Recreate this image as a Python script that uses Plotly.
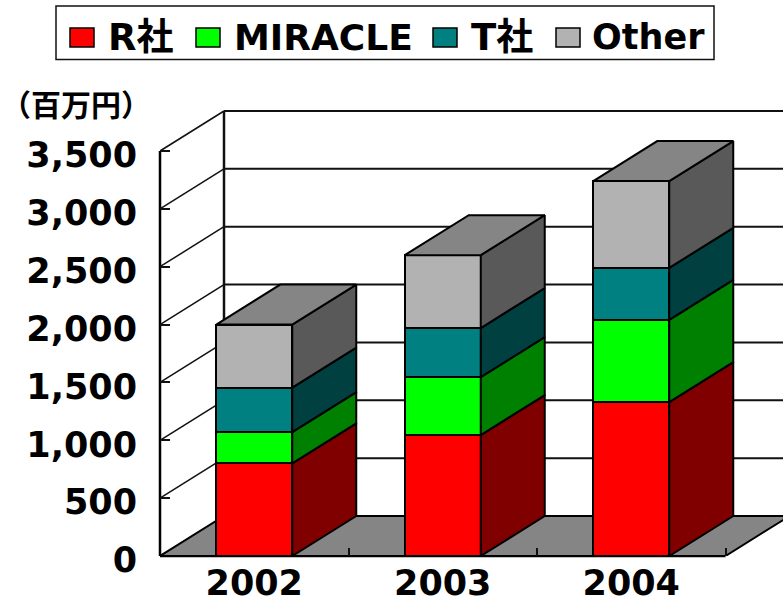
import plotly.graph_objects as go

# ---- data ----
years = [2002, 2003, 2004]
r_sha = [800, 1045, 1330]
miracle = [270, 500, 710]
t_sha = [385, 425, 450]
other = [545, 630, 750]
y_ticks = [0, 500, 1000, 1500, 2000, 2500, 3000, 3500]
unit_label = "（百万円）"

series = [
    ("R社", r_sha, "#FF0000", "#800000"),
    ("MIRACLE", miracle, "#00FF00", "#008000"),
    ("T社", t_sha, "#008080", "#004040"),
    ("Other", other, "#B2B2B2", "#595959"),
]

# ---- layout constants ----
W, H = 783, 602
LEFT, BASE = 160, 556
CAT_PX = 188.5
VAL_PX = 405 / 3500
DEPTH_X = 64 / CAT_PX
DEPTH_Y = 40 / VAL_PX
BAR_W = 76 / CAT_PX
X0 = years[0] - 0.5
X_END = X0 + (W - LEFT) / CAT_PX
Y_END = BASE * 1 / VAL_PX
XR = years[-1] + 0.5
FONT = "DejaVu Sans, Noto Sans CJK JP"
TOP_GREY = "#858585"
INK = "#111111"

fig = go.Figure()

# front faces
for name, vals, col, _ in series:
    fig.add_bar(x=years, y=vals, name=name, width=BAR_W,
                marker=dict(color=col, line=dict(color="black", width=2)),
                showlegend=False)

# side faces and top
for i, yr in enumerate(years):
    right = yr + BAR_W / 2
    left = yr - BAR_W / 2
    base = 0
    for name, vals, col, side in series:
        top = base + vals[i]
        fig.add_scatter(
            x=[right, right + DEPTH_X, right + DEPTH_X, right, right],
            y=[base, base + DEPTH_Y, top + DEPTH_Y, top, base],
            mode="lines", fill="toself", fillcolor=side,
            line=dict(color="black", width=2), showlegend=False, hoverinfo="skip")
        base = top
    fig.add_scatter(
        x=[left, right, right + DEPTH_X, left + DEPTH_X, left],
        y=[base, base, base + DEPTH_Y, base + DEPTH_Y, base],
        mode="lines", fill="toself", fillcolor=TOP_GREY,
        line=dict(color="black", width=2), showlegend=False, hoverinfo="skip")

shapes = []
def seg(x0, y0, x1, y1, w=1.5, color=INK):
    shapes.append(dict(type="line", xref="x", yref="y", x0=x0, y0=y0, x1=x1, y1=y1,
                       line=dict(color=color, width=w), layer="below"))

# floor
shapes.append(dict(type="path", xref="x", yref="y", layer="below",
                   path=f"M{X0},0 L{XR},0 L{XR + DEPTH_X},{DEPTH_Y} L{X0 + DEPTH_X},{DEPTH_Y} Z",
                   fillcolor=TOP_GREY, line=dict(color="black", width=2)))
# walls
for v in y_ticks[1:]:
    seg(X0, v, X0 + DEPTH_X, v + DEPTH_Y)
    seg(X0 + DEPTH_X, v + DEPTH_Y, X_END + 1, v + DEPTH_Y, 2)
seg(X0 + DEPTH_X, DEPTH_Y, X0 + DEPTH_X, y_ticks[-1] + DEPTH_Y, 2.5)
# axis lines: one end tied to paper so they are not clipped at the plot edge
shapes.append(dict(type="line", xref="paper", yref="y", x0=0, x1=0, y0=0, y1=y_ticks[-1],
                   line=dict(color="black", width=2.5), layer="below"))
shapes.append(dict(type="line", xref="x", yref="paper", x0=X0, x1=XR, y0=0, y1=0,
                   line=dict(color="black", width=2.5), layer="below"))


def px(x):
    return (x - LEFT) / (W - LEFT)


def py(y):
    return (BASE - y) / BASE


# hand-placed legend (swatches 25x19 as in the reference)
shapes.append(dict(type="rect", xref="paper", yref="paper",
                   x0=px(56), x1=px(714), y0=py(59.5), y1=py(6),
                   line=dict(color="#111111", width=1.5), fillcolor="white"))
annotations = []
legend_pos = [(70, 106), (196, 232), (433, 469), (556, 590)]
legend_size = [37, 36, 37, 35]
for (swx, tx), fs, (name, _, col, _) in zip(legend_pos, legend_size, series):
    shapes.append(dict(type="rect", xref="paper", yref="paper",
                       x0=px(swx), x1=px(swx + 24), y0=py(47), y1=py(28),
                       line=dict(color="black", width=1.5), fillcolor=col))
    annotations.append(dict(text=f"<b>{name}</b>", xref="paper", yref="paper",
                            x=px(tx), y=py(37), xanchor="left", yanchor="middle",
                            showarrow=False, font=dict(family=FONT, size=fs, color="black")))
annotations.append(dict(text=f"<b>{unit_label}</b>", xref="paper", yref="paper",
                        x=px(76), y=py(105), xanchor="center", yanchor="middle",
                        showarrow=False, font=dict(family=FONT, size=30, color="black")))

fig.update_layout(
    width=W, height=H, barmode="stack", showlegend=False,
    margin=dict(l=LEFT, r=0, t=0, b=H - BASE, pad=0, autoexpand=False),
    paper_bgcolor="white", plot_bgcolor="white",
    shapes=shapes, annotations=annotations,
    xaxis=dict(range=[X0, X_END], tickvals=years, tickformat="d", automargin=False,
               showgrid=False, zeroline=False, showline=False, ticks="",
               tickfont=dict(family=FONT, size=35, color="black", weight="bold"),
               ticklabelstandoff=3,
               minor=dict(tickvals=[y + 0.5 for y in years], ticks="inside",
                          ticklen=8, tickwidth=1.5, tickcolor=INK, showgrid=False)),
    yaxis=dict(range=[0, Y_END], tickvals=y_ticks, tickformat=",", automargin=False,
               showgrid=False, zeroline=False, showline=False,
               ticks="inside", ticklen=10, tickwidth=1.5, tickcolor=INK,
               tickfont=dict(family=FONT, size=35, color="black", weight="bold"),
               ticklabelstandoff=22, ticklabelshift=4),
)

fig.write_html("out.html", config=dict(displayModeBar=False),
               post_script="document.body.style.margin='0';document.body.style.overflow='hidden';")
